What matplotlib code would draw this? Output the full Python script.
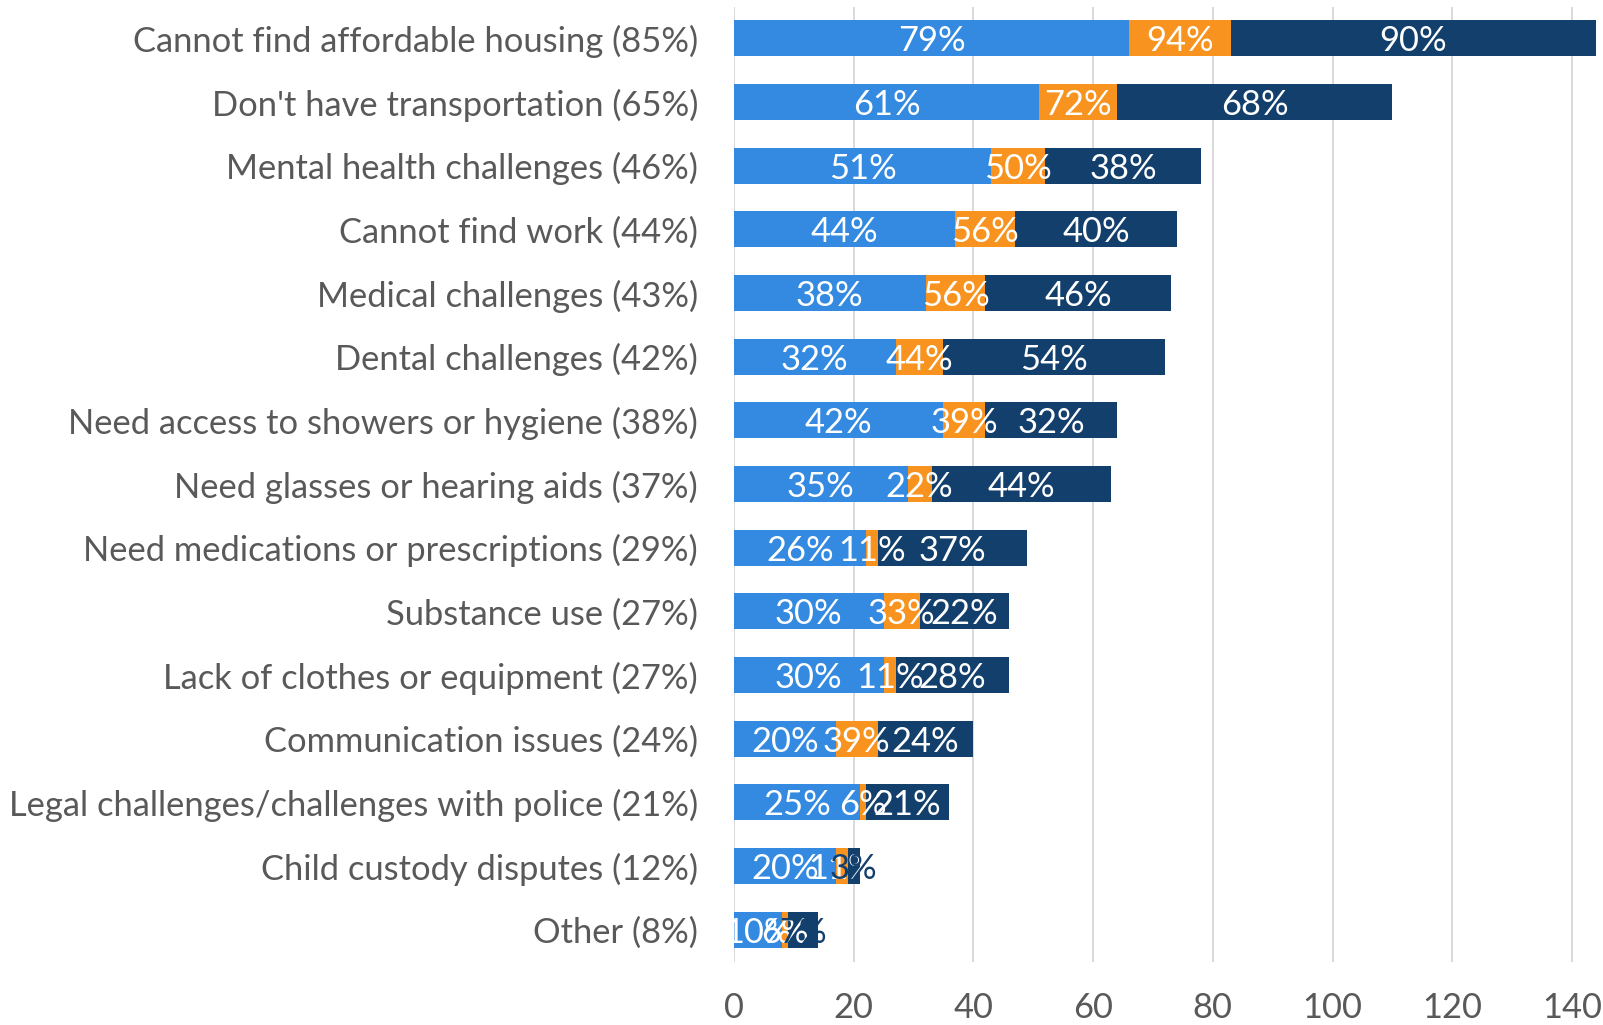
import matplotlib
matplotlib.use('Agg')
import matplotlib.pyplot as plt
import numpy as np

categories = [
    'Cannot find affordable housing (85%)',
    "Don't have transportation (65%)",
    'Mental health challenges (46%)',
    'Cannot find work (44%)',
    'Medical challenges (43%)',
    'Dental challenges (42%)',
    'Need access to showers or hygiene (38%)',
    'Need glasses or hearing aids (37%)',
    'Need medications or prescriptions (29%)',
    'Substance use (27%)',
    'Lack of clothes or equipment (27%)',
    'Communication issues (24%)',
    'Legal challenges/challenges with police (21%)',
    'Child custody disputes (12%)',
    'Other (8%)',
]
blue_counts = [66, 51, 43, 37, 32, 27, 35, 29, 22, 25, 25, 17, 21, 17, 8]
orange_counts = [17, 13, 9, 10, 10, 8, 7, 4, 2, 6, 2, 7, 1, 2, 1]
navy_counts = [61, 46, 26, 27, 31, 37, 22, 30, 25, 15, 19, 16, 14, 2, 5]
blue_labels = ['79%', '61%', '51%', '44%', '38%', '32%', '42%', '35%', '26%',
               '30%', '30%', '20%', '25%', '20%', '10%']
orange_labels = ['94%', '72%', '50%', '56%', '56%', '44%', '39%', '22%', '11%',
                 '33%', '11%', '39%', '6%', '11%', '6%']
navy_labels = ['90%', '68%', '38%', '40%', '46%', '54%', '32%', '44%', '37%',
               '22%', '28%', '24%', '21%', '3%', '7%']
x_ticks = [0, 20, 40, 60, 80, 100, 120, 140]

BLUE = '#338AE0'
ORANGE = '#F7931E'
NAVY = '#133F6D'
GREY_TXT = '#595959'
FS = 24.8

plt.rcParams['font.family'] = ['Lato', 'DejaVu Sans']

fig = plt.figure(figsize=(16.03, 10.25), dpi=100)
ax = fig.add_axes([734 / 1603, 63.5 / 1025, (1598 - 734) / 1603, (961.5 - 6.5) / 1025])

y = np.arange(len(categories))
h = 0.565
blue = np.array(blue_counts)
orange = np.array(orange_counts)
navy = np.array(navy_counts)

series = [
    (blue, np.zeros_like(blue), BLUE, blue_labels),
    (orange, blue, ORANGE, orange_labels),
    (navy, blue + orange, NAVY, navy_labels),
]
for vals, left, col, labs in series:
    ax.barh(y, vals, left=left, height=h, color=col, zorder=2)

# data labels, drawn series by series like the original
for k, (vals, left, col, labs) in enumerate(series):
    for i in range(len(y)):
        tc = 'white'
        if k == 2 and vals[i] <= 5:
            tc = NAVY
        ax.text(left[i] + vals[i] / 2, y[i], labs[i], ha='center', va='center_baseline',
                color=tc, fontsize=FS, zorder=3 + k, clip_on=False)

ax.set_xlim(0, 144.36)
ax.set_ylim(len(categories) - 0.5, -0.5)
ax.set_xticks(x_ticks)
ax.set_yticks(y)
ax.set_yticklabels(categories)
ax.tick_params(axis='x', length=0, pad=22, labelsize=FS, labelcolor=GREY_TXT)
ax.tick_params(axis='y', length=0, pad=26, labelsize=FS, labelcolor=GREY_TXT)
ax.grid(axis='x', color='#D9D9D9', linewidth=1.4, zorder=0)
ax.set_axisbelow(True)
for s in ax.spines.values():
    s.set_visible(False)

fig.savefig('out.png', dpi=100)
